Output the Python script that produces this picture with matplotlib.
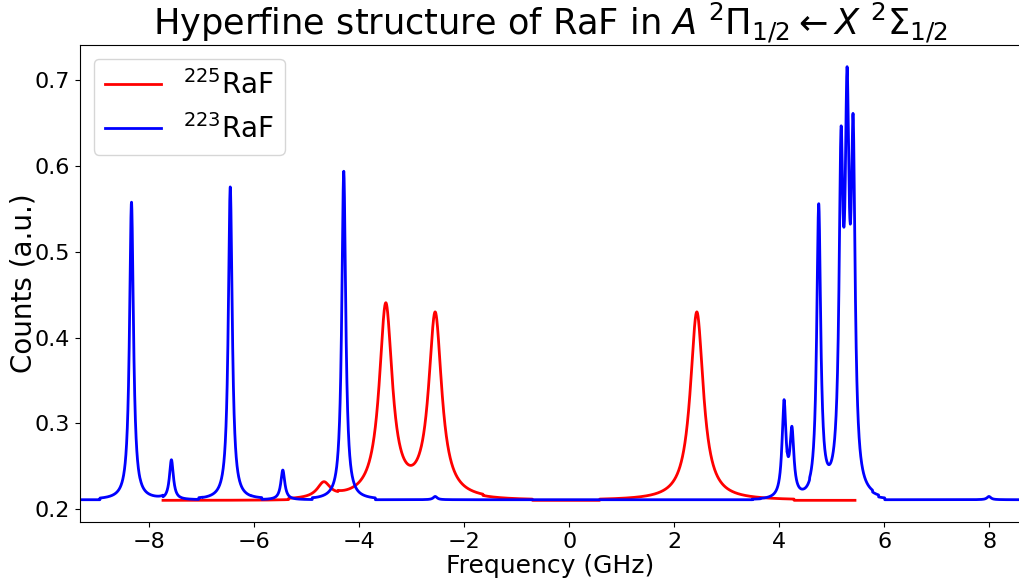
import numpy as np
import matplotlib
matplotlib.use("Agg")
import matplotlib.pyplot as plt

# ---------------- data ----------------
# 225RaF (red): line centres (GHz) and observed peak heights (a.u.)
red_centers = [-4.67, -3.49, -2.55, 2.43]
red_heights = [0.232, 0.4407, 0.430, 0.430]
red_fwhm = 0.30
red_window = 1.85
red_baseline = 0.2103
red_range = (-7.73, 5.44)

# 223RaF (blue)
blue_centers = [-8.33, -7.57, -6.45, -5.45, -4.29, -2.55, 4.09, 4.24,
                4.75, 5.175, 5.29, 5.405, 7.99]
blue_heights = [0.558, 0.2576, 0.5758, 0.2456, 0.594, 0.2148, 0.3277,
                0.2966, 0.5563, 0.6459, 0.716, 0.6603, 0.2148]
blue_fwhm = 0.09
blue_window = 0.6
blue_baseline = 0.211
blue_range = (-9.31, 8.60)

labels = [r"$^{225}$RaF", r"$^{223}$RaF"]
colors = ["red", "blue"]


def profile(x, c, fwhm, window):
    hw = fwhm / 2.0
    p = hw ** 2 / ((x - c) ** 2 + hw ** 2)
    return np.where(np.abs(x - c) <= window, p, 0.0)


def spectrum(centers, heights, fwhm, window, base, xr):
    centers = np.asarray(centers)
    heights = np.asarray(heights)
    M = np.array([[profile(ci, cj, fwhm, window) for cj in centers] for ci in centers])
    amps = np.linalg.solve(M, heights - base)
    x = np.linspace(xr[0], xr[1], 8000)
    y = base + sum(a * profile(x, c, fwhm, window) for a, c in zip(amps, centers))
    return x, y


xr, yr = spectrum(red_centers, red_heights, red_fwhm, red_window, red_baseline, red_range)
xb, yb = spectrum(blue_centers, blue_heights, blue_fwhm, blue_window, blue_baseline, blue_range)

fig = plt.figure(figsize=(10.19, 5.79), dpi=100)
ax = fig.add_axes([80 / 1019, 57 / 579, 941 / 1019, 477 / 579])
ax.plot(xr, yr, color=colors[0], lw=2, label=labels[0])
ax.plot(xb, yb, color=colors[1], lw=2, label=labels[1])
ax.set_xlim(blue_range)
ax.set_xticks([-8, -6, -4, -2, 0, 2, 4, 6, 8])
ax.tick_params(labelsize=16)
ax.set_xlabel("Frequency (GHz)", fontsize=18, labelpad=2)
ax.set_ylabel("Counts (a.u.)", fontsize=20, labelpad=-2)
ax.set_title(r"Hyperfine structure of RaF in $A\ ^2\Pi_{1/2} \leftarrow X\ ^2\Sigma_{1/2}$",
             fontsize=25.3, pad=6)
ax.legend(loc="upper left", fontsize=20)
fig.savefig("out.png", dpi=100)
